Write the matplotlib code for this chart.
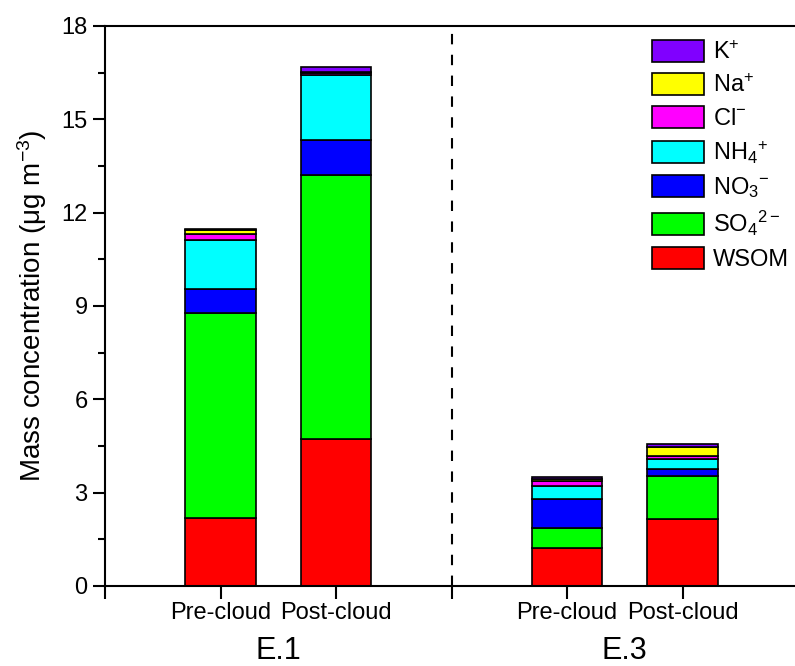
import numpy as np
import matplotlib
matplotlib.use('Agg')
import matplotlib.pyplot as plt
from matplotlib.patches import Patch

plt.rcParams['font.family'] = ['Liberation Sans', 'DejaVu Sans']
plt.rcParams['mathtext.fontset'] = 'custom'
plt.rcParams['mathtext.rm'] = 'Liberation Sans'
plt.rcParams['mathtext.it'] = 'Liberation Sans:italic'
plt.rcParams['mathtext.bf'] = 'Liberation Sans:bold'

# Samples: E.1 pre/post cloud, E.3 pre/post cloud
samples = ['Pre-cloud', 'Post-cloud', 'Pre-cloud', 'Post-cloud']
events = ['E.1', 'E.3']
species = ['WSOM', 'SO$_4$$^{2-}$', 'NO$_3$$^{-}$', 'NH$_4$$^{+}$', 'Cl$^{-}$', 'Na$^{+}$', 'K$^{+}$']
colors = ['#FF0000', '#00FF00', '#0000FF', '#00FFFF', '#FF00FF', '#FFFF00', '#8000FF']

# mass concentrations (ug m-3), one list per species, order = samples
wsom = [2.19, 4.72, 1.22, 2.14]
so4 = [6.58, 8.49, 0.65, 1.39]
no3 = [0.78, 1.13, 0.93, 0.24]
nh4 = [1.57, 2.09, 0.42, 0.30]
cl = [0.18, 0.05, 0.16, 0.11]
na = [0.13, 0.05, 0.07, 0.29]
k = [0.06, 0.15, 0.04, 0.08]

xpos = np.array([1, 2, 4, 5])

fig = plt.figure(figsize=(7.95, 6.66), dpi=100)
ax = fig.add_axes([105 / 795, 80 / 666, 693 / 795, 560 / 666])

bottom = np.zeros(len(samples))
for vals, col in zip([wsom, so4, no3, nh4, cl, na, k], colors):
    ax.bar(xpos, vals, width=0.61, bottom=bottom, color=col,
           edgecolor='black', linewidth=1.2)
    bottom += np.array(vals)

# separator between the two events
ax.axvline(3, color='black', linestyle=(0, (5, 5)), linewidth=1.5)

ax.set_xlim(0, 6)
ax.set_ylim(0, 18)
ax.set_yticks(np.arange(0, 19, 3))
ax.set_yticks(np.arange(0, 18.1, 1.5), minor=True)
ax.set_xticks(np.arange(0, 7, 1))
ax.set_xticklabels([])
ax.tick_params(axis='both', which='major', direction='out', length=9, width=1.5, labelsize=17)
ax.tick_params(axis='y', which='minor', direction='out', length=5, width=1.5)
for s in ax.spines.values():
    s.set_linewidth(1.5)

for x, lab in zip(xpos, samples):
    ax.text(x, -0.5, lab, ha='center', va='top', fontsize=17)
for x, ev in zip([1.5, 4.5], events):
    ax.text(x, -1.6, ev, ha='center', va='top', fontsize=22)

ax.set_ylabel('Mass concentration (μg m$^{-3}$)', fontsize=20, labelpad=9)

handles = [Patch(facecolor=c, edgecolor='black', linewidth=1.2) for c in colors]
ax.legend(handles[::-1], species[::-1], loc='upper left',
          bbox_to_anchor=(650 / 795, 1 - 38 / 666), bbox_transform=fig.transFigure,
          frameon=False, fontsize=17, handlelength=2.2, handleheight=1.05,
          labelspacing=0.38, handletextpad=0.35, borderpad=0.1, borderaxespad=0)

fig.savefig('out.png', dpi=100)
